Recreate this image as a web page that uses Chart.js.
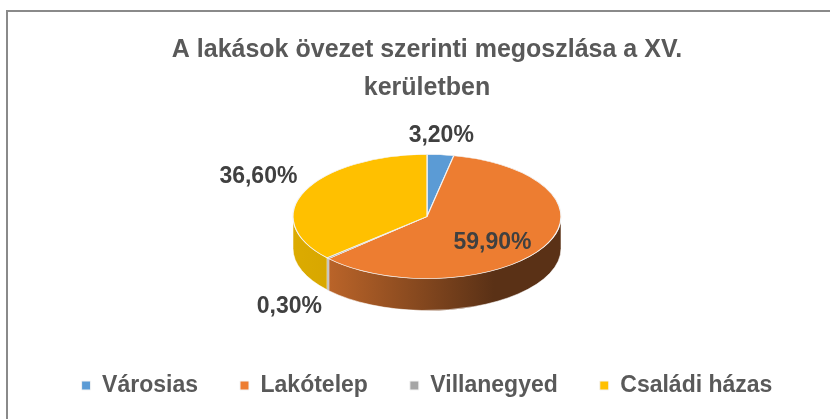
<!DOCTYPE html>
<html>
<head>
<meta charset="utf-8">
<script src="https://cdn.jsdelivr.net/npm/chart.js@4/dist/chart.umd.min.js"></script>
<style>
  html, body { margin: 0; padding: 0; background: #fff; overflow: hidden; }
  #frame {
    position: absolute; left: 6px; top: 10px;
    width: 838px; height: 430px;
    border-left: 2px solid #8a8a8a; border-top: 2px solid #8a8a8a;
    background: #fff;
  }
  #box { position: relative; width: 838px; height: 395px; }
  #box canvas { display: block; }
</style>
</head>
<body>
<div id="frame"><div id="box"><canvas id="pie"></canvas></div></div>
<script>
// ── Data ──
const titleLines = ['A lakások övezet szerinti megoszlása a XV.', 'kerületben'];
const categories = ['Városias', 'Lakótelep', 'Villanegyed', 'Családi házas'];
const shares     = [3.2, 59.9, 0.3, 36.6];

// ── Look ──
const topColors  = ['#5B9BD5', '#ED7D31', '#A5A5A5', '#FFC000'];
const sideColors = [['#4a82b5', '#2f5a84'], ['#cf6f2d', '#5a3116'], ['#8c8c8c', '#6a6a6a'], ['#dcab00', '#c29400']];
const FONT = '"Liberation Sans", Arial, sans-serif';
const RX = 134, RY = 62, DEPTH = 32, DROP = -8;

const fmt = v => v.toFixed(2).replace('.', ',') + '%';

// front part of an arc (the bit whose side wall is visible)
function frontParts(s, e) {
  const off = Math.floor(s / (2 * Math.PI)) * 2 * Math.PI;
  s -= off; e -= off;
  const out = [];
  [[0, Math.PI], [2 * Math.PI, 3 * Math.PI]].forEach(([a, b]) => {
    const lo = Math.max(a, s), hi = Math.min(b, e);
    if (hi > lo) out.push([lo, hi]);
  });
  return out;
}

let _ell = null;

const pie3d = {
  id: 'pie3d',
  beforeDatasetsDraw(chart) {
    const arcs = chart.getDatasetMeta(0).data;
    const { x: cx, y: cy, outerRadius: r } = arcs[0];
    const ctx = chart.ctx;
    const ex = cx, ey = cy + DROP;
    _ell = { ex, ey };

    // side walls
    arcs.forEach((arc, i) => {
      frontParts(arc.startAngle, arc.endAngle).forEach(([a, b]) => {
        const g = ctx.createLinearGradient(ex - RX, 0, ex + RX, 0);
        g.addColorStop(0, sideColors[i][0]);
        g.addColorStop(0.75, sideColors[i][1]);
        g.addColorStop(1, sideColors[i][1]);
        ctx.beginPath();
        ctx.ellipse(ex, ey, RX, RY, 0, a, b);
        ctx.ellipse(ex, ey + DEPTH, RX, RY, 0, b, a, true);
        ctx.closePath();
        ctx.fillStyle = g;
        ctx.fill();
        ctx.strokeStyle = 'rgba(255,255,255,0.55)';
        ctx.lineWidth = 1;
        ctx.stroke();
      });
    });

    // squash the top face
    ctx.save();
    ctx.translate(ex, ey);
    ctx.scale(RX / r, RY / r);
    ctx.translate(-cx, -cy);
  },
  afterDatasetsDraw(chart) {
    const ctx = chart.ctx;
    ctx.restore();
    const { ex, ey } = _ell;
    const arcs = chart.getDatasetMeta(0).data;

    // data labels
    ctx.save();
    ctx.font = 'bold 23px ' + FONT;
    ctx.fillStyle = '#404040';
    arcs.forEach((arc, i) => {
      const mid = (arc.startAngle + arc.endAngle) / 2;
      const c = Math.cos(mid), s = Math.sin(mid);
      let x, y;
      if (shares[i] > 50) {
        x = ex + RX * 0.56 * c;
        y = ey + RY * 0.6 * s + DEPTH * 0.25;
        ctx.textAlign = 'center';
        ctx.textBaseline = 'middle';
      } else {
        x = ex + RX * c + 8 * c;
        y = ey + RY * s + (s > 0 ? DEPTH : 0) + 8 * s;
        ctx.textAlign = c < -0.3 ? 'right' : (c > 0.3 ? 'left' : 'center');
        ctx.textBaseline = s < 0 ? 'bottom' : 'top';
      }
      ctx.fillText(fmt(shares[i]), x, y);
    });
    ctx.restore();
  }
};

new Chart(document.getElementById('pie'), {
  type: 'pie',
  data: {
    labels: categories,
    datasets: [{
      data: shares,
      backgroundColor: topColors,
      borderColor: '#f4f4f4',
      borderWidth: 1,
    }]
  },
  options: {
    responsive: true,
    maintainAspectRatio: false,
    animation: false,
    events: [],
    plugins: {
      title: {
        display: true,
        text: titleLines,
        color: '#595959',
        font: { family: FONT, size: 25, weight: 'bold', lineHeight: 1.52 },
        padding: { top: 19, bottom: 10 },
      },
      legend: {
        position: 'bottom',
        labels: {
          color: '#595959',
          font: { family: FONT, size: 23, weight: 'bold' },
          boxWidth: 9,
          boxHeight: 9,
          padding: 42,
        }
      },
      tooltip: { enabled: false },
    }
  },
  plugins: [pie3d]
});
</script>
</body>
</html>
